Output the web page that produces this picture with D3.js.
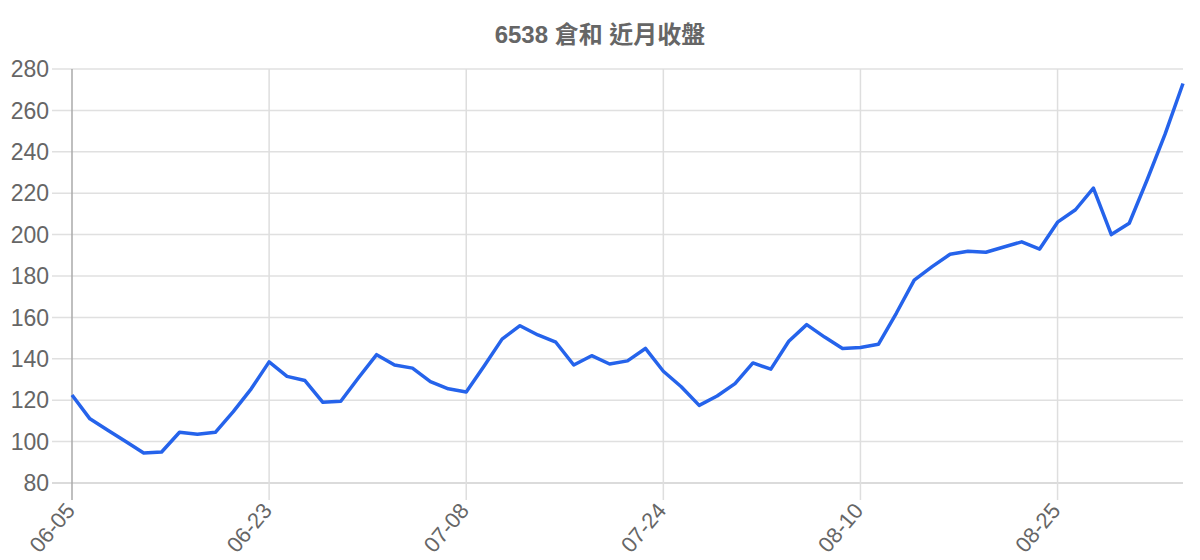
<!DOCTYPE html>
<html>
<head>
<meta charset="utf-8">
<script src="https://cdn.jsdelivr.net/npm/d3@7"></script>
<style>
  body { margin: 0; background: #fff; }
  svg text { font-family: "Liberation Sans", "Noto Sans CJK TC", sans-serif; fill: #666; }
</style>
</head>
<body>
<div id="chart"></div>
<script>
// data
var title = "6538 倉和 近月收盤";
var dates = [
  "06-05","06-06","06-09","06-10","06-11","06-12","06-13","06-16","06-17","06-18","06-20","06-23",
  "06-24","06-25","06-26","06-27","06-30","07-01","07-02","07-03","07-04","07-07","07-08",
  "07-09","07-10","07-11","07-14","07-15","07-16","07-17","07-18","07-21","07-22","07-24",
  "07-25","07-28","07-29","07-30","07-31","08-01","08-04","08-05","08-06","08-07","08-10",
  "08-11","08-12","08-13","08-14","08-15","08-18","08-19","08-20","08-21","08-22","08-25",
  "08-26","08-27","08-28","08-29","09-01","09-02","09-03"
];
var closes = [
  122.5, 111, 105.5, 100, 94.5, 95, 104.5, 103.5, 104.5, 114.5, 125.5, 138.5,
  131.5, 129.5, 119, 119.5, 131, 142, 137, 135.5, 129, 125.5, 124,
  136.5, 149.5, 156, 151.5, 148, 137, 141.5, 137.5, 139, 145, 134,
  126.5, 117.5, 122, 128, 138, 135, 148.5, 156.5, 150.5, 145, 145.5,
  147, 162, 178, 184.5, 190.5, 192, 191.5, 194, 196.5, 193, 206,
  212, 222.5, 200, 205.5, 226.5, 248.5, 273
];
var yTicks = [80, 100, 120, 140, 160, 180, 200, 220, 240, 260, 280];
var xTickIdx = [0, 11, 22, 33, 44, 55];

var total_width = 1200,
    total_height = 560;
var margin = {top: 69, right: 17, bottom: 77, left: 72},
    width = total_width - margin.left - margin.right,
    height = total_height - margin.top - margin.bottom;

var svg = d3.select("#chart").append("svg")
    .attr("width", total_width)
    .attr("height", total_height);

// title
svg.append("text")
    .attr("x", total_width / 2)
    .attr("y", 43)
    .attr("text-anchor", "middle")
    .attr("font-size", "24px")
    .attr("font-weight", "bold")
    .text(title);

var g = svg.append("g")
    .attr("transform", "translate(" + margin.left + "," + margin.top + ")");

var x = d3.scalePoint()
    .domain(dates)
    .range([0, width]);

var y = d3.scaleLinear()
    .domain([80, 280])
    .range([height, 0]);

// horizontal grid + y ticks
g.append("g")
  .selectAll("line")
  .data(yTicks)
  .enter()
  .append("line")
    .attr("x1", -20)
    .attr("x2", width)
    .attr("y1", d => y(d))
    .attr("y2", d => y(d))
    .attr("stroke", d => d === 80 ? "#cfcfcf" : "#e0e0e0")
    .attr("stroke-width", 1.5);

g.append("g")
  .selectAll("text")
  .data(yTicks)
  .enter()
  .append("text")
    .attr("x", -23)
    .attr("y", d => y(d))
    .attr("dy", "0.36em")
    .attr("text-anchor", "end")
    .attr("font-size", "23px")
    .text(d => d);

// vertical grid at labelled dates
g.append("g")
  .selectAll("line")
  .data(xTickIdx.slice(1))
  .enter()
  .append("line")
    .attr("x1", d => x(dates[d]))
    .attr("x2", d => x(dates[d]))
    .attr("y1", 0)
    .attr("y2", height + 17)
    .attr("stroke", "#dedede")
    .attr("stroke-width", 1.5);

// left axis line
g.append("line")
    .attr("x1", 0).attr("x2", 0)
    .attr("y1", 0).attr("y2", height + 17)
    .attr("stroke", "#aaa")
    .attr("stroke-width", 1.5);

// x labels, rotated
g.append("g")
  .selectAll("text")
  .data(xTickIdx)
  .enter()
  .append("text")
    .attr("transform", d => "translate(" + (x(dates[d]) + 4) + "," + (height + 28) + ") rotate(-50)")
    .attr("text-anchor", "end")
    .attr("font-size", "22px")
    .text(d => dates[d]);

// close line
var line = d3.line()
    .x((d, i) => x(dates[i]))
    .y(d => y(d));

g.append("path")
    .datum(closes)
    .attr("fill", "none")
    .attr("stroke", "#2563eb")
    .attr("stroke-width", 3.5)
    .attr("stroke-linejoin", "round")
    .attr("d", line);
</script>
</body>
</html>
